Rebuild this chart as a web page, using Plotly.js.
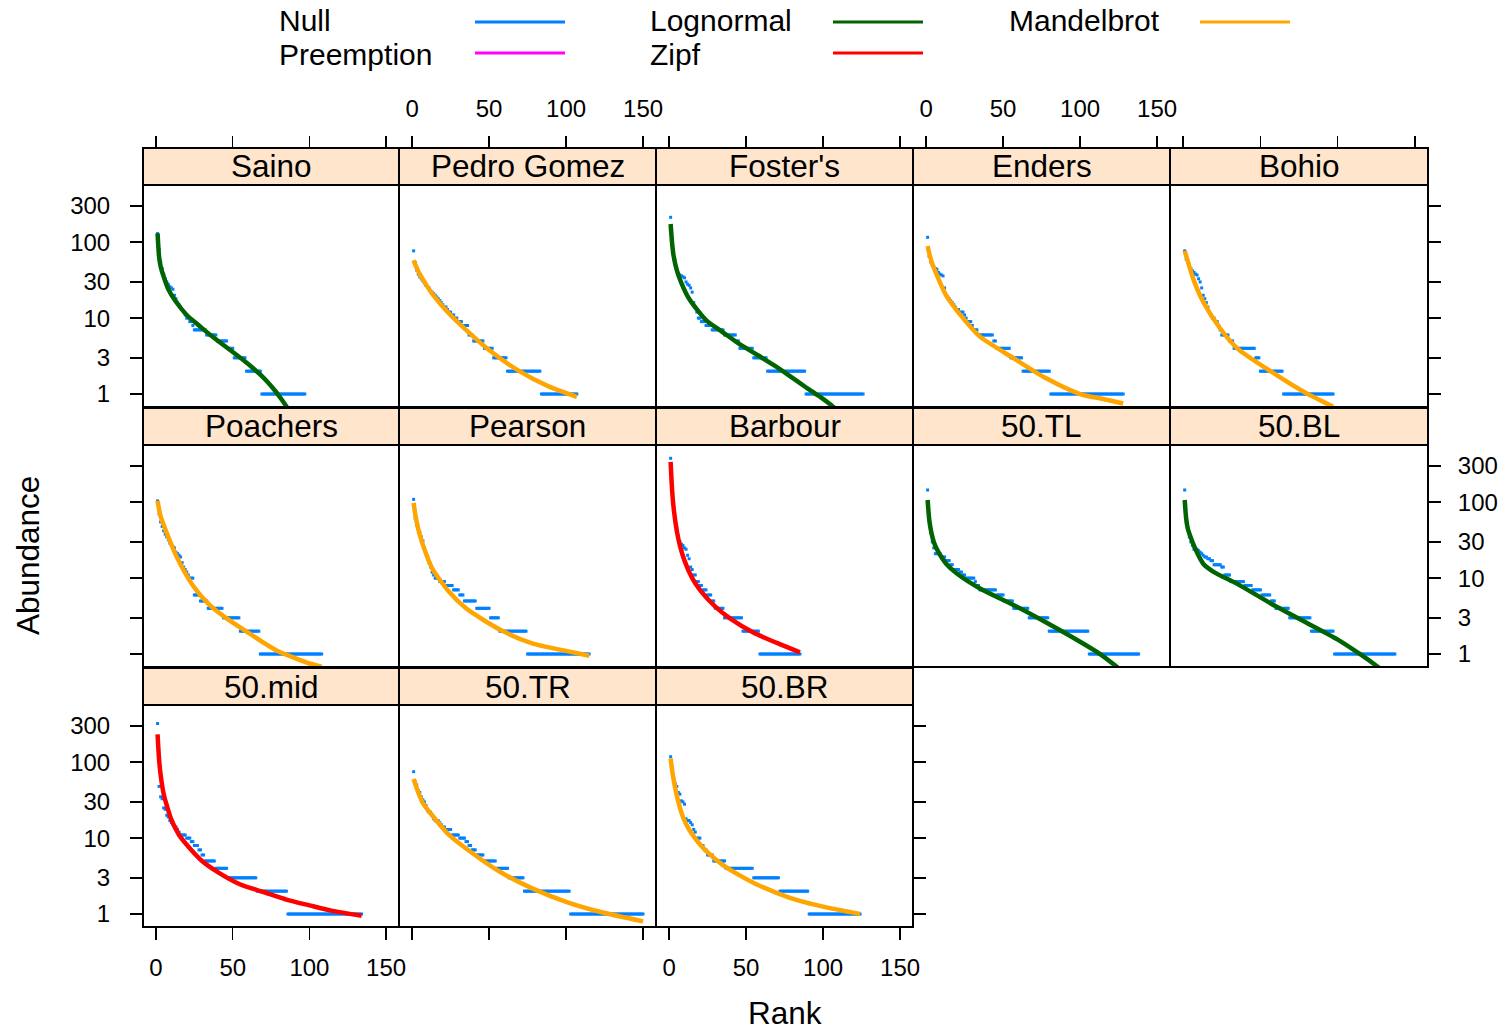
<!DOCTYPE html>
<html>
<head>
<meta charset="utf-8">
<script src="https://cdn.plot.ly/plotly-3.0.1.min.js"></script>
<style>
  html, body { margin: 0; padding: 0; background: #ffffff; }
  #chart { width: 1506px; height: 1033px; }
</style>
</head>
<body>
<div id="chart"></div>
<script>
// ---- Rank-abundance data per site -------------------------------------
// Observed abundances in rank order; a pair [a, n] stands for n species of abundance a.
const sites = ["Saino", "Pedro Gomez", "Foster's", "Enders", "Bohio",
               "Poachers", "Pearson", "Barbour", "50.TL", "50.BL",
               "50.mid", "50.TR", "50.BR"];

const obsSaino = [130, 80, 55, 45, 38, 33, 30, 28, 26, 25, 24, 20, 18, 16, 15, 14, 13, 12, 11, 10, 10, 9, 9, 8,
                  [7, 8], [6, 7], [5, 7], [4, 4], [3, 8], [2, 10], [1, 29]];
const obsPedroGomez = [77, 54, 43, 38, 35, 33, 31, 29, 27, 26, 25, 23, 22, 21, 20, 19, 18, 17, 16, 15, 14, 14, 13, 12,
                       12, 11, 11, 10, 10, 9, 9, 9, 8, 8, 8, 8,
                       [6, 3], [5, 7], [4, 6], [3, 9], [2, 22], [1, 24]];
const obsFosters = [213, 100, 60, 50, 42, 38, 37, 36, 35, 34, 30, 28, 27, 25, 22, 16, 14, 12, 10, 10, 9, 9, 9, 8, 8, 8, 8,
                    [7, 8], [6, 8], [5, 2], [4, 9], [3, 9], [2, 25], [1, 38]];
const obsEnders = [116, 65, 55, 50, 47, 45, 44, 40, 38, 37, 36, 25, 20, 19, 18, 17, 16, 15, 14, 13, 13, 12, 12, 12,
                   11, 10, 9, 9, 9, 8, 7, 7, 7,
                   [6, 10], [5, 2], [4, 9], [3, 8], [2, 18], [1, 48]];
const obsBohio = [77, 60, 55, 50, 45, 42, 40, 38, 37, 33, 30, 25, 20, 18, 16, 14, 12, 11, 10, 10, 9, 9, 8, 7,
                  6, 6, 6, 6, 6, 5, 5, 5,
                  [4, 14], [3, 3], [2, 15], [1, 33]];
const obsPoachers = [104, 70, 55, 48, 42, 38, 35, 32, 29, 27, 26, 25, 22, 21, 20, 19, 16, 14, 13, 12, 11, 10, 10, 10,
                     [6, 4], [5, 5], [4, 10], [3, 11], [2, 13], [1, 41]];
const obsPearson = [109, 62, 50, 45, 40, 35, 31, 25, 21, 18, 16, 14, 12, 11, 10, 10, 10,
                    [9, 4], [8, 5], [7, 4], [6, 3], [5, 8], [4, 9], [3, 6], [2, 18], [1, 41]];
const obsBarbour = [379, 150, 80, 57, 45, 35, 30, 28, 27, 25, 24, 20, 18, 14, 13, 11, 11, 9, 9, 8, 8,
                    [7, 3], [6, 3], [5, 2], [4, 6], [3, 12], [2, 11], [1, 27]];
const obs50TL = [145, 60, 40, 30, 25, 21, 21, 21, 21, 19, 19, 19, 17, 17, 17, 15, 15, 13, 13, 13, 13, 12, 12, 11, 11,
                 [10, 6], [9, 1], [8, 2], [7, 11], [6, 5], [5, 6], [4, 10], [3, 13], [2, 26], [1, 33]];
const obs50BL = [145, 55, 45, 35, 30, 27, 24, 24, 24, 23, 22, 21, 20, 19, 19, 18, 18, 17, 17,
                 [15, 5], [14, 2], [11, 4], [9, 9], [8, 5], [7, 6], [6, 6], [5, 3], [4, 9], [3, 14], [2, 15], [1, 40]];
const obs50mid = [324, 48, 35, 33, 25, 24, 20, 19, 17, 16, 15, 14, 14, 13, 12, 11, 11, 11, 11, 10,
                  10, 10, 9, 9, 8, 8, 8, 7, 7, 6, 6,
                  [5, 7], [4, 8], [3, 19], [2, 20], [1, 49]];
const obs50TR = [75, 55, 50, 42, 40, 35, 32, 30, 27, 23, 22, 22, 20, 18, 17, 17, 17, 16, 15, 14, 14, 13, 13, 13, 13,
                 [11, 5], [10, 4], [9, 2], [8, 2], [7, 3], [6, 5], [5, 8], [4, 8], [3, 10], [2, 30], [1, 48]];
const obs50BR = [118, 75, 60, 52, 48, 40, 38, 31, 30, 28, 18, 17, 17, 16, 15, 13, 12, 10, 10, 10, 8, 8, 7, 7,
                 [6, 4], [5, 8], [4, 18], [3, 17], [2, 19], [1, 34]];

// Fitted curve of the selected model for each site: [rank, fitted abundance]
const fitSaino = [[1, 131], [2, 64], [3, 48], [5, 35], [8, 24], [13, 16.4], [20, 11], [28, 8], [35, 6.08],
                  [45, 4.26], [50, 3.58], [57, 2.79], [62, 2.31], [68, 1.8], [73, 1.42], [78, 1.08], [82, 0.84],
                  [86, 0.64], [91, 0.45], [97, 0.285]];
const fitPedroGomez = [[1, 58], [2, 51], [3, 46], [5, 38], [8, 30], [13, 21], [24, 11.5], [35, 7], [50, 3.8],
                       [68, 2.1], [89, 1.25], [107, 0.92]];
const fitFosters = [[1, 174], [2, 95], [3, 65], [5, 43], [8, 29], [13, 18], [24, 9.4], [35, 6.5], [46, 4.5],
                    [57, 3.3], [68, 2.4], [78, 1.75], [89, 1.22], [97, 0.95], [105, 0.72], [115, 0.48], [126, 0.3]];
const fitEnders = [[1, 89], [2, 72], [4, 52], [7, 37], [13, 20], [24, 10], [35, 5.7], [57, 2.95], [78, 1.61],
                   [100, 1.0], [115, 0.86], [128, 0.75]];
const fitBohio = [[1, 77], [2, 66], [4, 48], [7, 31], [13, 16.4], [24, 7.3], [35, 4.0], [57, 1.97], [78, 1.07],
                  [97, 0.68]];
const fitPoachers = [[1, 104], [2, 80], [3, 65], [5, 50], [8, 35], [13, 20], [24, 8], [35, 4.4], [46, 2.95],
                     [57, 2.1], [78, 1.13], [100, 0.75], [108, 0.68]];
const fitPearson = [[1, 98], [2, 70], [3, 55], [5, 37], [8, 24], [13, 13.5], [24, 6.6], [35, 4.0], [57, 2.1],
                    [78, 1.38], [100, 1.1], [115, 0.95]];
const fitBarbour = [[1, 340], [2, 140], [3, 82], [5, 42], [7, 27], [10, 17], [15, 10], [20, 7], [30, 4.2],
                    [40, 2.9], [55, 1.9], [70, 1.4], [85, 1.05]];
const fit50TL = [[1, 107], [2, 60], [3, 44], [5, 30], [8, 22], [13, 15.5], [20, 11.5], [35, 7.3], [57, 4.4],
                 [78, 2.6], [100, 1.45], [113, 1.0], [123, 0.7], [138, 0.38]];
const fit50BL = [[1, 107], [2, 60], [3, 45], [5, 34], [8, 24], [13, 15.5], [20, 12], [35, 8.4], [57, 4.6],
                 [78, 2.7], [100, 1.55], [115, 0.98], [125, 0.7], [137, 0.45]];
const fit50mid = [[1, 233], [2, 107], [3, 68], [5, 38], [7, 27], [10, 17.5], [15, 11], [20, 8.2], [30, 5.0],
                  [40, 3.6], [55, 2.45], [70, 1.95], [85, 1.55], [100, 1.3], [115, 1.1], [134, 0.95]];
const fit50TR = [[1, 60], [2, 52], [4, 40], [7, 29], [13, 20], [24, 11], [35, 7.3], [57, 3.6], [78, 2.18],
                 [100, 1.45], [122, 1.07], [150, 0.8]];
const fit50BR = [[1, 112], [2, 78], [3, 58], [4, 45], [6, 30], [9, 19], [13, 13], [20, 8.3], [24, 6.8], [35, 4.4],
                 [45, 3.3], [57, 2.45], [78, 1.65], [100, 1.25], [124, 1.0]];

const observed = [obsSaino, obsPedroGomez, obsFosters, obsEnders, obsBohio, obsPoachers, obsPearson,
                  obsBarbour, obs50TL, obs50BL, obs50mid, obs50TR, obs50BR];
const fitted = [fitSaino, fitPedroGomez, fitFosters, fitEnders, fitBohio, fitPoachers, fitPearson,
                fitBarbour, fit50TL, fit50BL, fit50mid, fit50TR, fit50BR];
const bestModel = ["Lognormal", "Mandelbrot", "Lognormal", "Mandelbrot", "Mandelbrot",
                   "Mandelbrot", "Mandelbrot", "Zipf", "Lognormal", "Lognormal",
                   "Zipf", "Mandelbrot", "Mandelbrot"];

// Legend entries, laid out in three columns of the key
const modelNames = ["Null", "Preemption", "Lognormal", "Zipf", "Mandelbrot"];
const modelColors = ["#0080ff", "#ff00ff", "#006400", "#ff0000", "#ffa500"];

const xTickVals = [0, 50, 100, 150];
const yTickVals = [1, 3, 10, 30, 100, 300];
const yTickText = ["1", "3", "10", "30", "100", "300"];

// ---- Panel geometry (pixels of a 1506 x 1033 page) ---------------------
const W = 1506, H = 1033;
const colL = [143, 399, 656, 913, 1170];
const colR = [399, 656, 913, 1170, 1428];
const rowT = [185, 445, 705];
const rowB = [407, 667, 927];
const stripH = 37;
const xRange = [-8.5, 158.4];
const yRange = [-0.171, 2.754];
const FONT = '"Liberation Sans", Arial, Helvetica, sans-serif';
const TEXT_SIZE = 31.5;
const KEY_SIZE = 30;
const TICK_SIZE = 24;
const FRAME = {color: "#000000", width: 2};

function expandRuns(list) {
  const out = [];
  list.forEach(v => {
    if (Array.isArray(v)) { for (let k = 0; k < v[1]; k++) out.push(v[0]); }
    else out.push(v);
  });
  return out;
}
const px = x => x / W;
const py = y => 1 - y / H;

const traces = [];
const layout = {
  width: W, height: H,
  margin: {l: 0, r: 0, t: 0, b: 0},
  paper_bgcolor: "#ffffff",
  plot_bgcolor: "rgba(0,0,0,0)",
  showlegend: false,
  font: {family: FONT, color: "#000000", size: TICK_SIZE},
  shapes: [],
  annotations: []
};

sites.forEach((site, i) => {
  const row = Math.floor(i / 5), col = i % 5;
  const n = i + 1;
  const xa = "x" + (n === 1 ? "" : n), ya = "y" + (n === 1 ? "" : n);
  const xKey = "xaxis" + (n === 1 ? "" : n), yKey = "yaxis" + (n === 1 ? "" : n);

  const abund = expandRuns(observed[i]);
  const ranks = abund.map((_, k) => k + 1);
  traces.push({
    type: "scatter", mode: "markers", xaxis: xa, yaxis: ya,
    x: ranks, y: abund, hoverinfo: "skip",
    marker: {symbol: "square", size: 3, color: modelColors[0], line: {width: 0}}
  });
  const fit = fitted[i];
  traces.push({
    type: "scatter", mode: "lines", xaxis: xa, yaxis: ya,
    x: fit.map(p => p[0]), y: fit.map(p => p[1]), hoverinfo: "skip",
    line: {color: modelColors[modelNames.indexOf(bestModel[i])], width: 4.5, shape: "spline", smoothing: 0.7}
  });

  const bottomAxis = row === 2;
  layout[xKey] = {
    domain: [px(colL[col]), px(colR[col])],
    range: xRange, anchor: ya,
    showgrid: false, zeroline: false, showline: false,
    ticks: bottomAxis ? "outside" : "", ticklen: 12, tickwidth: 1.5, tickcolor: "#000000",
    tickvals: xTickVals, ticktext: xTickVals.map(String),
    showticklabels: bottomAxis && (col === 0 || col === 2),
    ticklabelstandoff: 7,
    tickfont: {size: TICK_SIZE, family: FONT}, fixedrange: true
  };
  const rightSide = col === 4 || i === 12;
  const hasTicks = col === 0 || rightSide;
  layout[yKey] = {
    domain: [py(rowB[row]), py(rowT[row])],
    type: "log", range: yRange, anchor: xa,
    side: rightSide ? "right" : "left",
    showgrid: false, zeroline: false, showline: false,
    ticks: hasTicks ? "outside" : "", ticklen: 12, tickwidth: 1.5, tickcolor: "#000000",
    tickvals: yTickVals, ticktext: yTickText,
    showticklabels: (col === 0 && row !== 1) || (col === 4 && row === 1),
    ticklabelstandoff: rightSide ? 12 : 15,
    tickfont: {size: TICK_SIZE, family: FONT}, fixedrange: true
  };

  // panel frame
  layout.shapes.push({
    type: "rect", xref: xa + " domain", yref: ya + " domain",
    x0: 0, x1: 1, y0: 0, y1: 1, line: FRAME, layer: "above"
  });
  // strip with the site name above the panel
  const stripTop = 1 + stripH / (rowB[row] - rowT[row]);
  layout.shapes.push({
    type: "rect", xref: xa + " domain", yref: ya + " domain",
    x0: 0, x1: 1, y0: 1, y1: stripTop,
    fillcolor: "#ffe5cc", line: FRAME
  });
  layout.annotations.push({
    xref: xa + " domain", yref: ya + " domain",
    x: 0.5, y: (1 + stripTop) / 2, xanchor: "center", yanchor: "middle",
    text: site, showarrow: false, font: {size: TEXT_SIZE, family: FONT, color: "#000000"}
  });
});

// Top rank axes, drawn above the first row of strips
for (let c = 0; c < 5; c++) {
  const n = 14 + c;
  const base = "x" + (c === 0 ? "" : c + 1);
  layout["xaxis" + n] = {
    overlaying: base, anchor: "free", position: py(rowT[0] - stripH),
    side: "top", range: xRange,
    showgrid: false, zeroline: false, showline: false,
    ticks: "outside", ticklen: 12, tickwidth: 1.5, tickcolor: "#000000",
    tickvals: xTickVals, ticktext: xTickVals.map(String),
    showticklabels: c === 1 || c === 3,
    ticklabelstandoff: 9,
    tickfont: {size: TICK_SIZE, family: FONT}, fixedrange: true
  };
  traces.push({
    type: "scatter", mode: "markers", x: [], y: [],
    xaxis: "x" + n, yaxis: "y" + (c === 0 ? "" : c + 1), hoverinfo: "skip"
  });
}

// Key: text on the left, line sample on the right, three columns
const keyCols = [
  {text: 277, line: [475, 565]},
  {text: 648, line: [833, 923]},
  {text: 1007, line: [1200, 1290]}
];
const keyRows = [20, 54];
const keyLineRows = [22, 53];
modelNames.forEach((name, k) => {
  const kc = keyCols[Math.floor(k / 2)];
  layout.annotations.push({
    xref: "paper", yref: "paper", x: px(kc.text), y: py(keyRows[k % 2]),
    xanchor: "left", yanchor: "middle", showarrow: false,
    text: name, font: {size: KEY_SIZE, family: FONT, color: "#000000"}
  });
  const ly = keyLineRows[k % 2];
  layout.shapes.push({
    type: "line", xref: "paper", yref: "paper",
    x0: px(kc.line[0]), x1: px(kc.line[1]), y0: py(ly), y1: py(ly),
    line: {color: modelColors[k], width: 3}
  });
});

// Axis titles
layout.annotations.push({
  xref: "paper", yref: "paper", x: px(28), y: py(556),
  xanchor: "center", yanchor: "middle", textangle: -90, showarrow: false,
  text: "Abundance", font: {size: TEXT_SIZE, family: FONT, color: "#000000"}
});
layout.annotations.push({
  xref: "paper", yref: "paper", x: px(785), y: py(1013),
  xanchor: "center", yanchor: "middle", showarrow: false,
  text: "Rank", font: {size: TEXT_SIZE, family: FONT, color: "#000000"}
});

Plotly.newPlot("chart", traces, layout, {staticPlot: true, displayModeBar: false});
</script>
</body>
</html>
